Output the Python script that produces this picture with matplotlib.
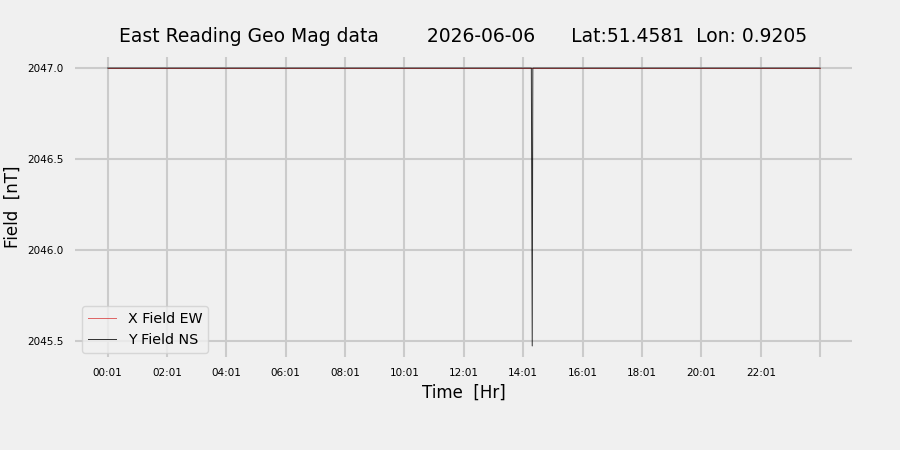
import matplotlib
matplotlib.use('Agg')
import matplotlib.pyplot as plt

# donnees (heures decimales)
t_hours = [0.0167, 14.20, 14.29, 14.32, 14.34, 24.0167]
x_field_ew = [2047.0, 2047.0, 2047.0, 2047.0, 2047.0, 2047.0]
y_field_ns = [2047.0, 2047.0, 2047.0, 2045.47, 2047.0, 2047.0]

tick_pos = [0.0167, 2.0167, 4.0167, 6.0167, 8.0167, 10.0167, 12.0167,
            14.0167, 16.0167, 18.0167, 20.0167, 22.0167, 24.0167]
tick_labels = ['00:01', '02:01', '04:01', '06:01', '08:01', '10:01', '12:01',
               '14:01', '16:01', '18:01', '20:01', '22:01', '']

bg = '#f0f0f0'
fig = plt.figure(figsize=(9, 4.5), dpi=100, facecolor=bg)
ax = fig.add_axes([0.083, 0.207, 0.864, 0.666], facecolor=bg)

ax.plot(t_hours, x_field_ew, color='#d62728', alpha=0.7, linewidth=0.7, label='X Field EW')
ax.plot(t_hours, y_field_ns, color='black', alpha=0.8, linewidth=0.7, label='Y Field NS')

ax.set_xlim(-1.09, 25.1)
ax.set_ylim(2045.41, 2047.06)
ax.set_xticks(tick_pos)
ax.set_xticklabels(tick_labels)
ax.set_yticks([2045.5, 2046.0, 2046.5, 2047.0])
ax.tick_params(labelsize=7.5, length=0, pad=8)
ax.grid(True, color='#cbcbcb', linewidth=1.5)
for s in ax.spines.values():
    s.set_visible(False)

ax.set_xlabel('Time  [Hr]', fontsize=12)
ax.set_ylabel('Field  [nT]', fontsize=12)
ax.set_title('East Reading Geo Mag data        2026-06-06      Lat:51.4581  Lon: 0.9205',
             fontsize=13.5, pad=11)
leg = ax.legend(loc='lower left', fontsize=10.3, facecolor=bg, framealpha=0.8,
                edgecolor='#d0d0d0', bbox_to_anchor=(0.0, -0.01))

plt.savefig('out.png', dpi=100, facecolor=bg)
plt.close()
